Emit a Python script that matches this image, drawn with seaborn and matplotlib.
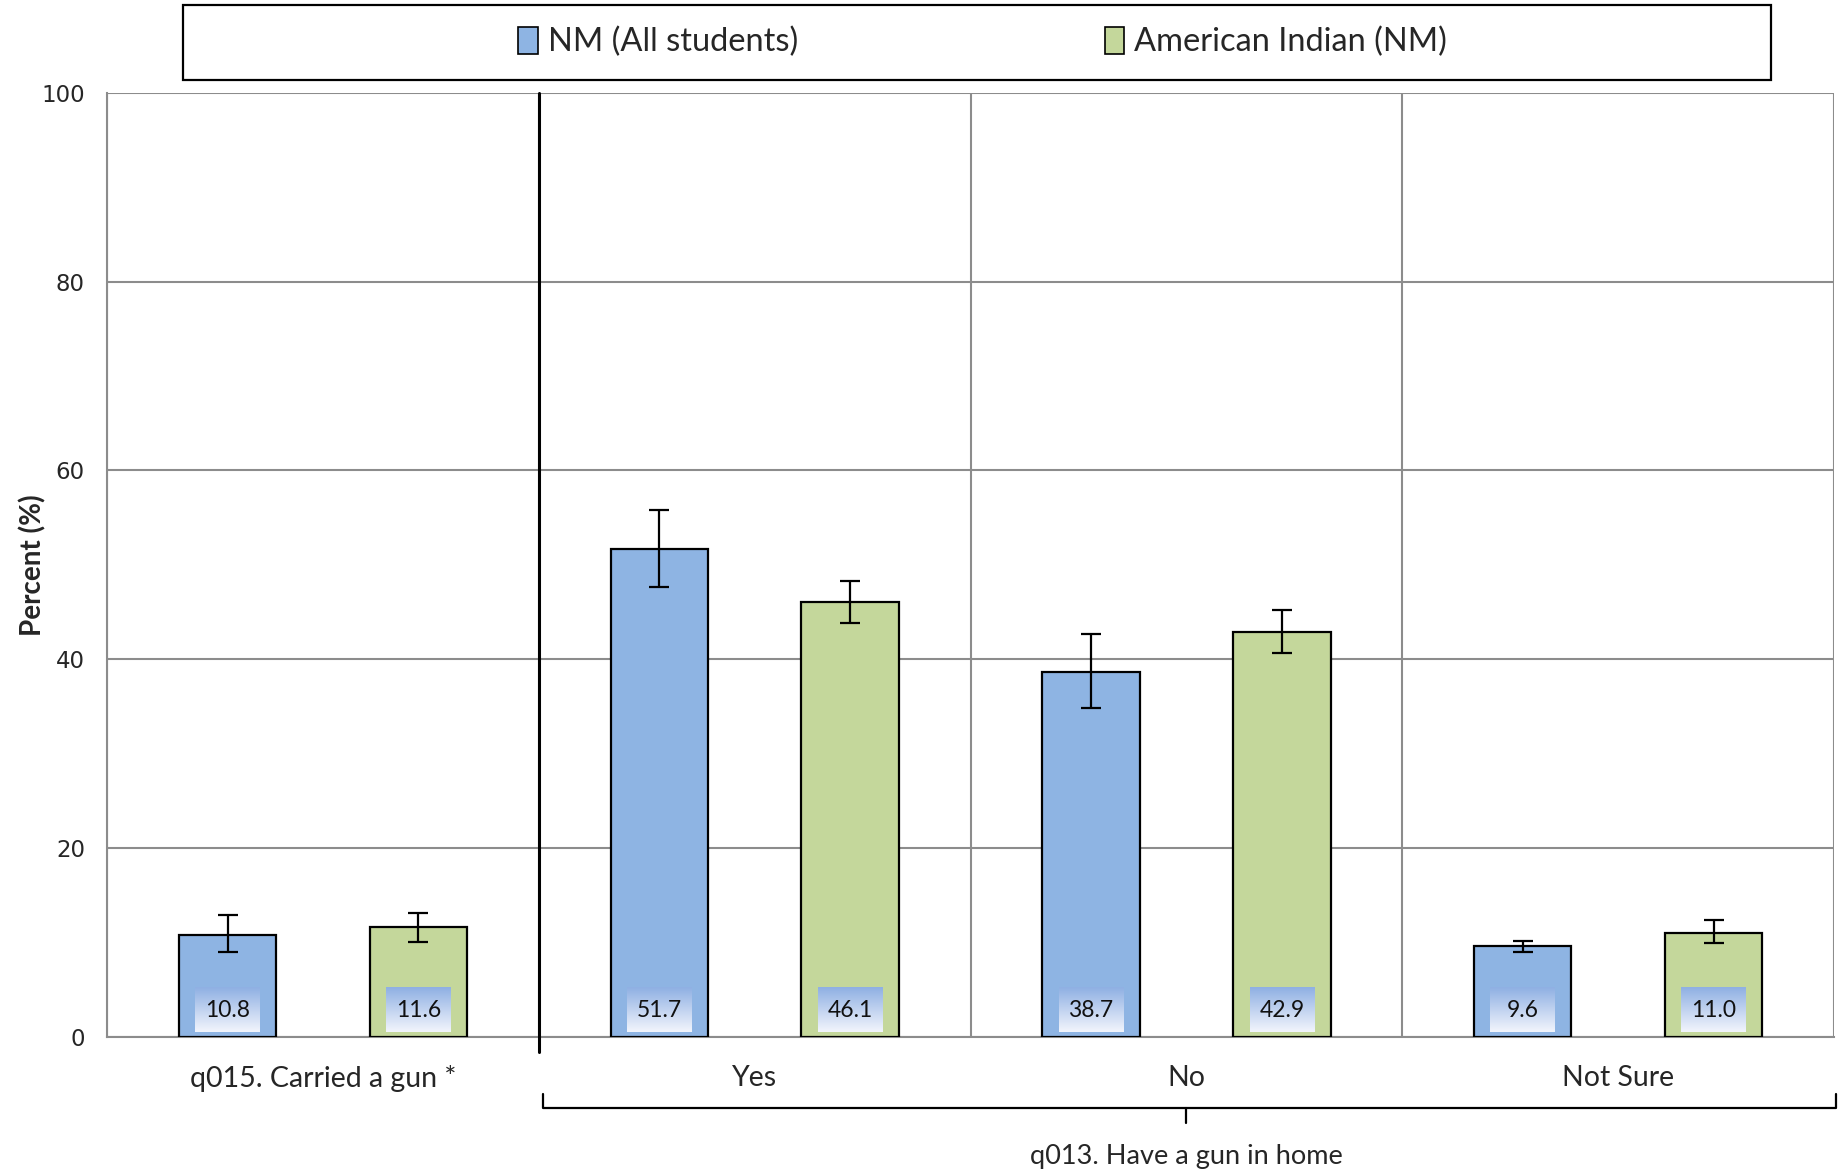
import matplotlib
matplotlib.use("Agg")
import matplotlib.pyplot as plt
import matplotlib.patches as mpatches
import numpy as np
import pandas as pd
import seaborn as sns

# data
categories = ["q015. Carried a gun *", "Yes", "No", "Not Sure"]
groups = ["NM (All students)", "American Indian (NM)"]
nm_vals = [10.8, 51.7, 38.7, 9.6]
ai_vals = [11.6, 46.1, 42.9, 11.0]
nm_lo = [9.0, 47.7, 34.8, 9.0]
nm_hi = [12.9, 55.8, 42.7, 10.2]
ai_lo = [10.1, 43.8, 40.7, 9.9]
ai_hi = [13.1, 48.3, 45.2, 12.4]
colors = ["#8eb4e3", "#c4d79b"]

df = pd.DataFrame({
    "category": categories * 2,
    "group": [groups[0]] * 4 + [groups[1]] * 4,
    "value": nm_vals + ai_vals,
})

sns.set_style("white")
plt.rcParams["font.family"] = ["Lato", "DejaVu Sans"]

fig = plt.figure(figsize=(18.47, 11.73), dpi=100)
ax = fig.add_axes([0.058, 0.116, 0.935, 0.805])

sns.barplot(data=df, x="category", y="value", hue="group", order=categories,
            hue_order=groups, palette=colors, saturation=1, width=0.884, gap=0.49,
            errorbar=None, edgecolor="black", linewidth=1.6, ax=ax, zorder=3)

# error bars + value boxes, one container per hue level
lows = [nm_lo, ai_lo]
highs = [nm_hi, ai_hi]
grad = np.linspace(0, 1, 64).reshape(-1, 1)
top_c = np.array([0.56, 0.69, 0.89])
bot_c = np.array([0.95, 0.96, 0.99])
grad_img = top_c[None, None, :] * (1 - grad[:, :, None]) + bot_c[None, None, :] * grad[:, :, None]
for cont, lo, hi in zip(ax.containers, lows, highs):
    xs = np.array([b.get_x() + b.get_width() / 2 for b in cont])
    hs = np.array([b.get_height() for b in cont])
    ax.errorbar(xs, hs, yerr=[hs - np.array(lo), np.array(hi) - hs], fmt="none",
                ecolor="black", elinewidth=1.6, capsize=7, capthick=1.6, zorder=4)
    for x, h in zip(xs, hs):
        ax.imshow(grad_img, extent=[x - 0.075, x + 0.075, 0.5, 5.25],
                  aspect="auto", zorder=5, interpolation="bilinear")
        ax.text(x, 2.85, f"{h:.1f}", ha="center", va="center", fontsize=16.5,
                color="#111111", zorder=6)
ax.set_xlim(-0.5, 3.5)
ax.set_ylim(0, 100)

# grid and spines
ax.set_yticks(np.arange(0, 101, 20))
ax.set_xticks(np.arange(-0.5, 3.6, 1), minor=True)
ax.grid(axis="y", color="#8c8c8c", linewidth=1.5, zorder=0)
ax.grid(axis="x", which="minor", color="#8c8c8c", linewidth=1.5, zorder=0)
ax.grid(axis="x", which="major", visible=False)
for s in ["top", "right"]:
    ax.spines[s].set_visible(False)
for s in ["left", "bottom"]:
    ax.spines[s].set_color("#8c8c8c")
    ax.spines[s].set_linewidth(1.5)
ax.tick_params(axis="y", length=8, width=1.5, color="#8c8c8c", pad=8, labelsize=16.5)
ax.tick_params(axis="x", which="major", length=0, pad=20, labelsize=20.5)
ax.tick_params(axis="x", which="minor", length=8, width=1.5, color="#8c8c8c")
for t in ax.get_yticklabels():
    t.set_fontfamily("DejaVu Sans")
ax.set_xlabel("")
ax.set_ylabel("Percent (%)", fontsize=20, fontweight="bold", labelpad=-4)

# separator between questions
ax.axvline(0.5, ymin=-0.016, ymax=1, color="black", linewidth=2.2, clip_on=False, zorder=6)

# bracket under the q013 answers
tr = ax.get_xaxis_transform()
ax.plot([0.51, 0.51, 3.505, 3.505], [-0.06, -0.075, -0.075, -0.06], color="black",
        linewidth=1.6, transform=tr, clip_on=False)
ax.plot([2.0, 2.0], [-0.075, -0.091], color="black", linewidth=1.6,
        transform=tr, clip_on=False)
ax.text(2.0, -0.127, "q013. Have a gun in home", transform=tr, ha="center",
        va="center", fontsize=19.5)

# legend in a framed box across the top
ax.get_legend().remove()
fig.patches.append(mpatches.Rectangle((0.099, 0.932), 0.860, 0.064, transform=fig.transFigure,
                                      facecolor="white", edgecolor="black", linewidth=1.6))
handles = [mpatches.Patch(facecolor=c, edgecolor="black", linewidth=1.2) for c in colors]
fig.legend(handles, groups, loc="center", bbox_to_anchor=(0.532, 0.964), ncol=2,
           frameon=False, fontsize=23.5, handlelength=0.6, handleheight=0.9,
           handletextpad=0.3, columnspacing=9.4)

fig.savefig("out.png", dpi=100)
